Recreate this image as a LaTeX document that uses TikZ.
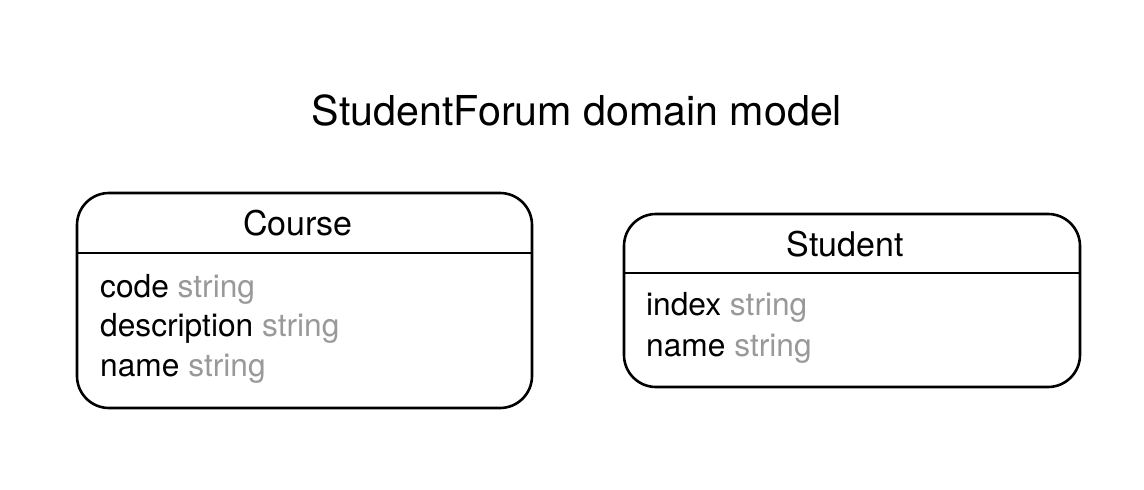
\documentclass[tikz,border=0pt]{standalone}
\usepackage{fontspec}
\setmainfont{TeX Gyre Heros}
\definecolor{typegray}{RGB}{153,153,153}
\begin{document}
\begin{tikzpicture}[x=1pt,y=-1pt,
  entity/.style={draw, line width=2.6pt, rounded corners=32pt, inner sep=0pt, outer sep=0pt},
  hdrline/.style={line width=2.2pt},
  etitle/.style={anchor=base, inner sep=0pt, font=\fontsize{34}{40}\selectfont},
  attr/.style={anchor=base west, inner sep=0pt, font=\fontsize{31.7}{36}\selectfont},
  ttl/.style={anchor=base, inner sep=0pt, font=\fontsize{41.2}{48}\selectfont}]
\useasboundingbox (0,0) rectangle (1144,490);
\node[ttl] (title) at (577,125) {StudentForum domain model};
% Course
\node[entity, minimum width=455pt, minimum height=215pt] (course) at (304.5,300.5) {};
\draw[hdrline] (course.west |- 0,253) -- (course.east |- 0,253);
\node[etitle] (coursettl) at (298,235) {Course};
\node[attr] (c1) at (100,297) {code \textcolor{typegray}{string}};
\node[attr] (c2) at (100,336.5) {description \textcolor{typegray}{string}};
\node[attr] (c3) at (100,376) {name \textcolor{typegray}{string}};
% Student
\node[entity, minimum width=456pt, minimum height=173pt] (student) at (852,300.5) {};
\draw[hdrline] (student.west |- 0,273) -- (student.east |- 0,273);
\node[etitle] (studentttl) at (845,256) {Student};
\node[attr] (s1) at (646,315) {index \textcolor{typegray}{string}};
\node[attr] (s2) at (646,356) {name \textcolor{typegray}{string}};
\end{tikzpicture}
\end{document}
